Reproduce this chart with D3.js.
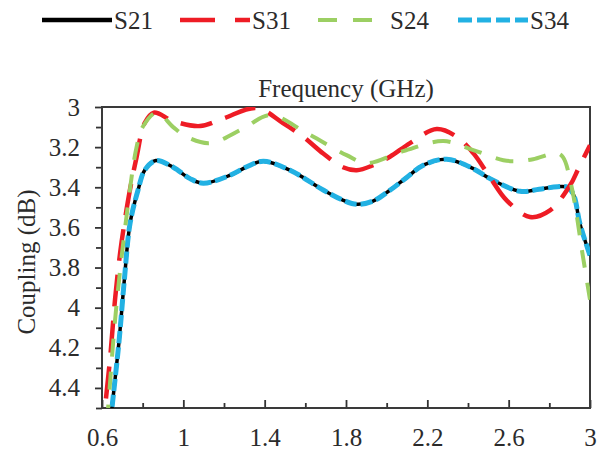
<!DOCTYPE html>
<html>
<head>
<meta charset="utf-8">
<script src="https://cdn.jsdelivr.net/npm/d3@7"></script>
<style>
  body { margin: 0; background: #fff; }
  text { font-family: "Liberation Serif", "Times New Roman", serif; fill: #2b2b2b; }
</style>
</head>
<body>
<div id="grafico"></div>
<script>
const width = 608;
const height = 455;

// datos: [frecuencia GHz, acoplamiento dB]
const s21 = [[0.6,4.97],[0.649,4.5],[0.684,4.165],[0.71,3.86],[0.738,3.58],[0.777,3.415],[0.81,3.315],
  [0.865,3.267],[0.95,3.3],[1.033,3.357],[1.098,3.38],[1.23,3.34],[1.312,3.298],[1.393,3.27],[1.525,3.315],
  [1.69,3.415],[1.787,3.465],[1.853,3.485],[1.93,3.47],[2.016,3.415],[2.1,3.35],[2.18,3.29],[2.295,3.26],
  [2.426,3.307],[2.508,3.357],[2.656,3.42],[2.75,3.41],[2.84,3.397],[2.89,3.40],[2.92,3.44],[2.95,3.58],[3.0,3.74]];
const s34 = s21.map(d => [d[0], d[1]]);
const s31 = [[0.6,4.68],[0.615,4.5],[0.64,4.25],[0.665,3.95],[0.69,3.72],[0.713,3.56],[0.738,3.41],[0.77,3.25],
  [0.81,3.08],[0.855,3.028],[0.95,3.07],[1.082,3.095],[1.197,3.057],[1.36,3.005],[1.49,3.08],[1.589,3.148],
  [1.688,3.232],[1.785,3.3],[1.853,3.315],[1.934,3.29],[2.016,3.248],[2.115,3.18],[2.246,3.11],[2.344,3.148],
  [2.426,3.23],[2.508,3.35],[2.59,3.465],[2.705,3.548],[2.803,3.515],[2.902,3.39],[2.943,3.307],[3.0,3.19]];
const s24 = [[0.6,4.9],[0.63,4.5],[0.67,4.0],[0.72,3.55],[0.77,3.2],[0.8,3.1],[0.869,3.028],[0.95,3.1],
  [1.016,3.148],[1.131,3.18],[1.295,3.107],[1.426,3.04],[1.607,3.13],[1.803,3.24],[1.9,3.28],[2.082,3.22],
  [2.279,3.17],[2.426,3.215],[2.574,3.265],[2.64,3.27],[2.72,3.26],[2.836,3.23],[2.867,3.25],[2.91,3.40],
  [2.966,3.75],[3.0,3.96]];

const xTicks = [0.6, 1, 1.4, 1.8, 2.2, 2.6, 3];
const xMinor = [0.8, 1.2, 1.6, 2.0, 2.4, 2.8];
const yTicks = [3, 3.2, 3.4, 3.6, 3.8, 4, 4.2, 4.4];
const yMinor = [3.1, 3.3, 3.5, 3.7, 3.9, 4.1, 4.3, 4.5];

const series = [
  { name: "S21", data: s21, color: "#000000", w: 3.5, dash: null },
  { name: "S31", data: s31, color: "#ee1c25", w: 4.5, dash: "32,14" },
  { name: "S24", data: s24, color: "#9ccf63", w: 4, dash: "18,15" },
  { name: "S34", data: s34, color: "#22b1e3", w: 5, dash: "12,4" }
];
const ordenDibujo = ["S21", "S34", "S31", "S24"];

const margin = { top: 107, right: 18, bottom: 47, left: 102 };
const iw = width - margin.left - margin.right;
const ih = height - margin.top - margin.bottom;

const svg = d3.select("#grafico").append("svg")
  .attr("width", width)
  .attr("height", height);

const x = d3.scaleLinear().domain([0.6, 3]).range([0, iw]);
const y = d3.scaleLinear().domain([3, 4.5]).range([0, ih]);

const g = svg.append("g").attr("transform", `translate(${margin.left},${margin.top})`);

svg.append("defs").append("clipPath").attr("id", "recorte")
  .append("rect").attr("width", iw).attr("height", ih);

// ejes
const ejeY = g.append("g").call(d3.axisLeft(y).tickValues(yTicks).tickSize(7).tickFormat(d3.format("")));
ejeY.selectAll("text").attr("x", -22).style("font-size", "25px");
const ejeYmenor = g.append("g").call(d3.axisLeft(y).tickValues(yMinor).tickSize(6).tickFormat(""));

const ejeX = g.append("g").attr("transform", `translate(0,${ih})`)
  .call(d3.axisBottom(x).tickValues(xTicks).tickSize(-8).tickFormat(d3.format("")));
ejeX.selectAll("text").attr("y", 38).attr("dy", 0).style("font-size", "25px");
const ejeXmenor = g.append("g").attr("transform", `translate(0,${ih})`)
  .call(d3.axisBottom(x).tickValues(xMinor).tickSize(-5).tickFormat(""));

[ejeY, ejeYmenor, ejeX, ejeXmenor].forEach(e => {
  e.select(".domain").remove();
  e.selectAll("line").attr("stroke", "#333").attr("stroke-width", 1.8);
  e.selectAll("text").attr("fill", "#2b2b2b");
});

g.append("rect")
  .attr("width", iw).attr("height", ih)
  .attr("fill", "none").attr("stroke", "#3a3a3a").attr("stroke-width", 2);

// curvas
const linea = d3.line()
  .x(d => x(d[0]))
  .y(d => y(d[1]))
  .curve(d3.curveCatmullRom.alpha(0.5));

const grupoCurvas = g.append("g").attr("clip-path", "url(#recorte)");
ordenDibujo.forEach(n => {
  const s = series.find(d => d.name === n);
  grupoCurvas.append("path")
    .datum(s.data)
    .attr("d", linea)
    .attr("fill", "none")
    .attr("stroke", s.color)
    .attr("stroke-width", s.w)
    .attr("stroke-dasharray", s.dash);
});

// titulos
svg.append("text")
  .attr("x", margin.left + iw / 2).attr("y", 97)
  .attr("text-anchor", "middle").style("font-size", "25px")
  .text("Frequency (GHz)");

svg.append("text")
  .attr("transform", "translate(35,262) rotate(-90)")
  .attr("text-anchor", "middle").style("font-size", "25px")
  .text("Coupling (dB)");

// leyenda
const posLeyenda = [42, 180, 318, 458];
const leyenda = svg.append("g").attr("class", "leyenda");
series.forEach((s, i) => {
  const lg = leyenda.append("g").attr("transform", `translate(${posLeyenda[i]},20)`);
  lg.append("line")
    .attr("x1", 0).attr("x2", 70)
    .attr("stroke", s.color)
    .attr("stroke-width", s.name === "S21" ? 4.5 : s.w)
    .attr("stroke-dasharray", s.name === "S31" ? "35,20" : s.name === "S24" ? "19,16" : s.name === "S34" ? "14,5" : null);
  lg.append("text")
    .attr("x", 72).attr("y", 9)
    .style("font-size", "25px")
    .text(s.name);
});
</script>
</body>
</html>
